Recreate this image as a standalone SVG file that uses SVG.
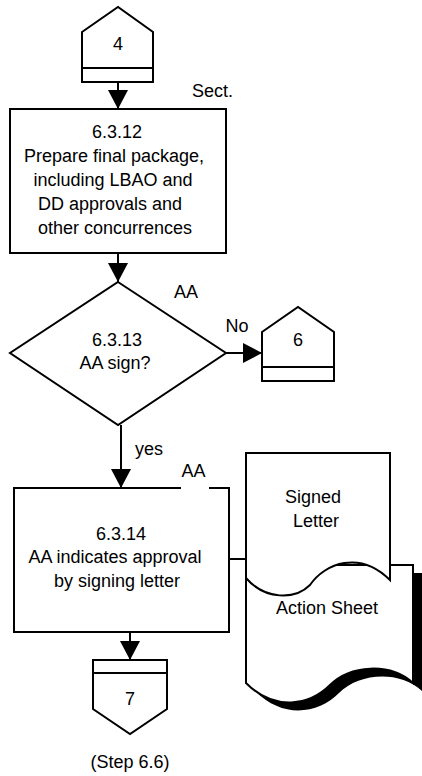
<svg xmlns="http://www.w3.org/2000/svg" width="422" height="776" viewBox="0 0 422 776">
<style>
.s{fill:#fff;stroke:#000;stroke-width:2}
.l{fill:none;stroke:#000;stroke-width:2}
text{font-family:"Liberation Sans",Arial,sans-serif;font-size:18px;fill:#000}
.m{text-anchor:middle}
</style>
<defs>
<marker id="ah" markerUnits="userSpaceOnUse" markerWidth="19" markerHeight="20" refX="19" refY="10" orient="auto" viewBox="0 0 19 20">
<path d="M0,0 L19,10 L0,20 z" fill="#000"/>
</marker>
</defs>
<rect width="422" height="776" fill="#fff"/>
<g id="connectors">
<path class="l" d="M118,82 V109" marker-end="url(#ah)"/>
<path class="l" d="M118,253 V282" marker-end="url(#ah)"/>
<path class="l" d="M226,353 H262" marker-end="url(#ah)"/>
<path class="l" d="M121,425 V488" marker-end="url(#ah)"/>
<path class="l" d="M130,632 V660" marker-end="url(#ah)"/>
<path class="l" d="M229,559 H246"/>
</g>
<g id="conn4">
<polygon class="s" points="82,32 118,7 153,32 153,82 82,82"/>
<path class="l" d="M82,68 H153"/>
<text class="m" x="118" y="50">4</text>
</g>
<text id="sect" x="192" y="97">Sect.</text>
<g id="step6312">
<rect class="s" x="10" y="109" width="216" height="144"/>
<text class="m" x="117" y="138">6.3.12</text>
<text class="m" x="114" y="162">Prepare final package,</text>
<text class="m" x="113" y="186">including LBAO and</text>
<text class="m" x="110" y="210">DD approvals and</text>
<text class="m" x="115" y="234">other concurrences</text>
</g>
<g id="step6313">
<polygon class="s" points="118,282 226,353 118,425 10,353"/>
<text class="m" x="186" y="298">AA</text>
<text class="m" x="117" y="346">6.3.13</text>
<text class="m" x="115" y="369">AA sign?</text>
</g>
<text id="no" class="m" x="237" y="332">No</text>
<g id="conn6">
<polygon class="s" points="262,332 298,307 334,332 334,381 262,381"/>
<path class="l" d="M262,367 H334"/>
<text class="m" x="298" y="346">6</text>
</g>
<text id="yes" x="135" y="455">yes</text>
<g id="step6314">
<rect class="s" x="14" y="488" width="215" height="144"/>
<rect x="181" y="464" width="28" height="26" fill="#fff"/>
<text class="m" x="193.5" y="477">AA</text>
<text class="m" x="121" y="540">6.3.14</text>
<text class="m" x="115" y="563">AA indicates approval</text>
<text class="m" x="117" y="587">by signing letter</text>
</g>
<g id="actionSheet">
<path d="M255,573 H422 V691 C399,670 359,673 339,693 C319,713 284,720 255,691 z" fill="#000"/>
<path class="s" d="M246,565 H413 V683 C390,662 350,665 330,685 C310,705 275,712 246,683 z"/>
<text class="m" x="327" y="614">Action Sheet</text>
</g>
<g id="signedLetter">
<path class="s" d="M246,453 H390 V580 C360,550 325,563 310,585 C295,600 265,600 246,578 z"/>
<text class="m" x="313" y="503">Signed</text>
<text class="m" x="316" y="527">Letter</text>
</g>
<g id="conn7">
<polygon class="s" points="93,660 167,660 167,709 130,734 93,709"/>
<path class="l" d="M93,673 H167"/>
<text class="m" x="130" y="705">7</text>
</g>
<text id="stepRef" class="m" x="130" y="768">(Step 6.6)</text>
</svg>
